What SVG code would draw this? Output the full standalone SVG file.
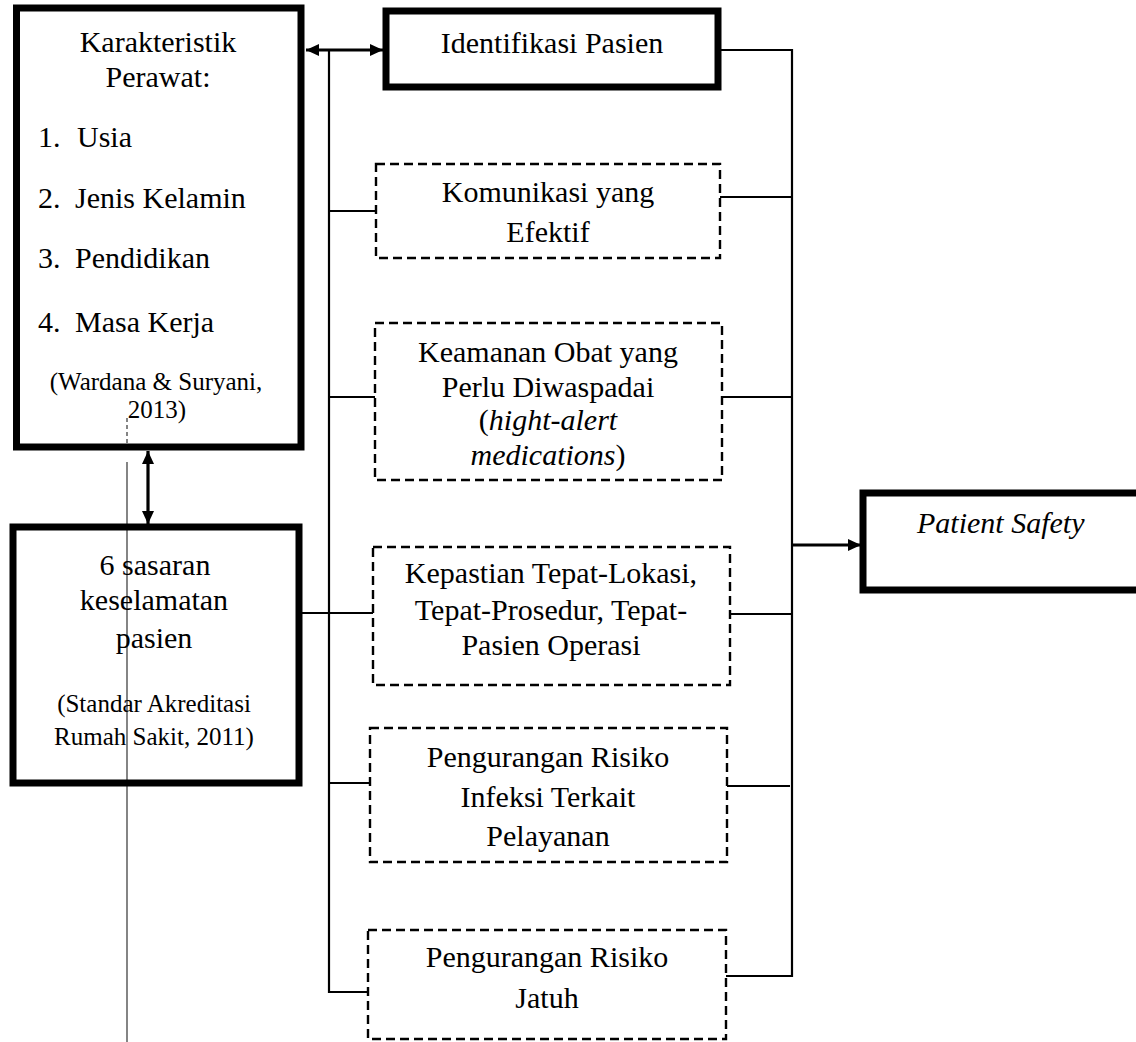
<svg xmlns="http://www.w3.org/2000/svg" width="1136" height="1042" viewBox="0 0 1136 1042">
<defs>
<style>
.bold{fill:#fff;stroke:#000;stroke-width:7}
.dash{fill:#fff;stroke:#000;stroke-width:2.4;stroke-dasharray:9 5}
.t{font-family:"Liberation Serif","Times New Roman",serif;font-size:30px;fill:#000}
.c{text-anchor:middle}
.s{font-size:25px}
.con{fill:none;stroke:#000;stroke-width:2.2}
.arr{fill:none;stroke:#000;stroke-width:3.2}
</style>
<marker id="ah" markerUnits="userSpaceOnUse" markerWidth="14" markerHeight="14" refX="13" refY="7" orient="auto-start-reverse" viewBox="0 0 14 14">
<path d="M0,1 L13,7 L0,13 z" fill="#000"/>
</marker>
</defs>
<rect width="1136" height="1042" fill="#fff"/>

<g id="connectors">
<path class="con" d="M329,50 V992 H368"/>
<path class="con" d="M329,211 H376"/>
<path class="con" d="M329,397 H375"/>
<path class="con" d="M300,613 H373"/>
<path class="con" d="M329,783 H370"/>
<path class="con" d="M718,50 H792 V976 H726"/>
<path class="con" d="M720,197 H792"/>
<path class="con" d="M722,397 H792"/>
<path class="con" d="M730,614 H792"/>
<path class="con" d="M727,786 H790"/>
<line class="arr" x1="306" y1="50" x2="383" y2="50" marker-start="url(#ah)" marker-end="url(#ah)"/>
<line class="arr" x1="148" y1="451" x2="148" y2="524" marker-start="url(#ah)" marker-end="url(#ah)"/>
<line class="arr" x1="792" y1="545" x2="861" y2="545" marker-end="url(#ah)"/>
<line x1="127" y1="418" x2="127" y2="446" stroke="#333" stroke-width="1.2" stroke-dasharray="4 3"/>
<line x1="127" y1="462" x2="127" y2="1042" stroke="#333" stroke-width="1.2"/>
</g>

<g id="karakteristik">
<rect class="bold" x="16.5" y="8" width="284.5" height="439" fill="none" style="fill:none"/>
<text class="t c" x="158" y="52">Karakteristik</text>
<text class="t c" x="158" y="87">Perawat:</text>
<text class="t" x="38" y="147">1.</text><text class="t" x="77" y="147">Usia</text>
<text class="t" x="38" y="208">2.</text><text class="t" x="75" y="208">Jenis Kelamin</text>
<text class="t" x="38" y="268">3.</text><text class="t" x="75" y="268">Pendidikan</text>
<text class="t" x="38" y="332">4.</text><text class="t" x="75" y="332">Masa Kerja</text>
<text class="t c s" x="156" y="390">(Wardana &amp; Suryani,</text>
<text class="t c s" x="157" y="418">2013)</text>
</g>

<g id="sasaran">
<rect class="bold" x="13" y="527" width="286" height="256" style="fill:none"/>
<text class="t c" x="155" y="575">6 sasaran</text>
<text class="t c" x="154" y="610">keselamatan</text>
<text class="t c" x="154" y="648">pasien</text>
<text class="t c s" x="154" y="712">(Standar Akreditasi</text>
<text class="t c s" x="154" y="745">Rumah Sakit, 2011)</text>
</g>

<g id="identifikasi">
<rect class="bold" x="386" y="11" width="332" height="76"/>
<text class="t c" x="552" y="53">Identifikasi Pasien</text>
</g>

<g id="komunikasi">
<rect class="dash" x="376" y="164" width="344" height="94"/>
<text class="t c" x="548" y="202">Komunikasi yang</text>
<text class="t c" x="548" y="242">Efektif</text>
</g>

<g id="keamanan">
<rect class="dash" x="375" y="323" width="347" height="157"/>
<text class="t c" x="548" y="362">Keamanan Obat yang</text>
<text class="t c" x="548" y="397">Perlu Diwaspadai</text>
<text class="t c" x="548" y="430">(<tspan font-style="italic">hight-alert</tspan></text>
<text class="t c" x="548" y="465"><tspan font-style="italic">medications</tspan>)</text>
</g>

<g id="kepastian">
<rect class="dash" x="373" y="547" width="357" height="138"/>
<text class="t c" x="551" y="583">Kepastian Tepat-Lokasi,</text>
<text class="t c" x="551" y="620">Tepat-Prosedur, Tepat-</text>
<text class="t c" x="551" y="655">Pasien Operasi</text>
</g>

<g id="infeksi">
<rect class="dash" x="370" y="728" width="357" height="134"/>
<text class="t c" x="548" y="767">Pengurangan Risiko</text>
<text class="t c" x="548" y="807">Infeksi Terkait</text>
<text class="t c" x="548" y="846">Pelayanan</text>
</g>

<g id="jatuh">
<rect class="dash" x="368" y="930" width="358" height="109"/>
<text class="t c" x="547" y="967">Pengurangan Risiko</text>
<text class="t c" x="547" y="1008">Jatuh</text>
</g>

<g id="patient-safety">
<rect class="bold" x="863" y="493" width="300" height="97"/>
<text class="t" x="917" y="533" font-style="italic">Patient Safety</text>
</g>
</svg>
